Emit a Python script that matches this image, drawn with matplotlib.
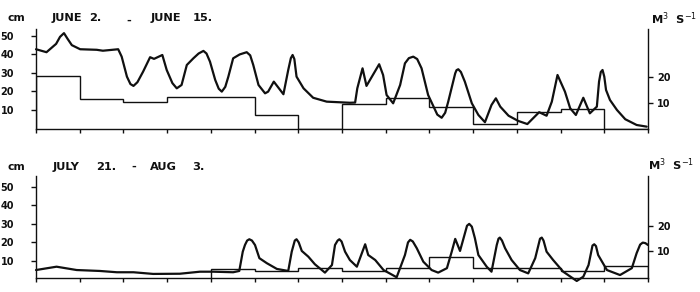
import numpy as np
import matplotlib
matplotlib.use("Agg")
import matplotlib.pyplot as plt

# ---------------- data ----------------
# Panel 1: June 2 - June 15 (x in days from start)
june_days = [0.00, 0.24, 0.46, 0.55, 0.64, 0.72, 0.82, 1.01, 1.39, 1.53, 1.88, 1.96, 2.08, 2.16, 2.23,
             2.32, 2.45, 2.61, 2.70, 2.89, 2.99, 3.12, 3.22, 3.33, 3.45, 3.60, 3.72, 3.83, 3.90, 3.98,
             4.10, 4.18, 4.25, 4.33, 4.40, 4.51, 4.66, 4.82, 4.90, 4.97, 5.09, 5.24, 5.31, 5.44, 5.66,
             5.77, 5.83, 5.87, 5.91, 5.96, 6.12, 6.34, 6.65, 7.18, 7.30, 7.35, 7.47, 7.56, 7.85, 7.94,
             8.02, 8.17, 8.33, 8.44, 8.53, 8.63, 8.72, 8.82, 8.97, 9.18, 9.28, 9.36, 9.43, 9.59, 9.62,
             9.66, 9.72, 9.81, 9.97, 10.12, 10.27, 10.42, 10.52, 10.62, 10.81, 11.03, 11.24, 11.37,
             11.51, 11.68, 11.80, 11.93, 12.10, 12.22, 12.35, 12.52, 12.67, 12.83, 12.88, 12.92, 12.96,
             13.00, 13.04, 13.13, 13.29, 13.48, 13.74, 13.97]
june_level = [42.8, 41.2, 45.7, 49.5, 51.5, 48.5, 45.0, 42.8, 42.5, 42.0, 42.8, 38.8, 28.0, 24.0, 23.0,
              25.0, 30.7, 38.5, 37.6, 39.7, 31.6, 24.5, 21.7, 23.5, 34.3, 37.9, 40.5, 41.9, 40.5, 36.1,
              26.2, 21.5, 19.9, 22.5, 28.0, 37.9, 40.0, 41.2, 39.5, 34.3, 23.5, 19.0, 19.9, 25.3, 18.5,
              31.6, 38.0, 39.7, 37.5, 28.0, 21.7, 16.6, 14.5, 13.9, 14.0, 21.7, 32.5, 23.0, 34.7, 28.9,
              18.1, 13.6, 23.5, 35.2, 38.0, 38.8, 37.5, 32.5, 18.1, 7.5, 5.8, 8.5, 14.5, 29.8, 31.5,
              32.0, 30.5, 25.3, 13.6, 7.3, 3.4, 12.7, 16.3, 11.8, 6.9, 4.1, 2.4, 5.5,
              8.8, 6.9, 14.5, 28.9, 19.9, 10.9, 7.3, 16.6, 8.2, 11.8, 25.3, 30.5, 31.6,
              28.0, 20.8, 15.4, 10.0, 5.0, 1.9, 1.0]
june_step_days = list(range(0, 15))
june_discharge = [20.4, 11.4, 10.3, 12.2, 12.2, 5.4, 0.0, 9.6, 12.1, 8.6, 1.9, 6.7, 7.6, 0.0]

# Panel 2: July 21 - Aug 3
july_days = [0.00, 0.47, 0.93, 1.46, 1.85, 2.23, 2.68, 3.29, 3.75, 4.06, 4.51, 4.65, 4.73, 4.78, 4.83,
             4.88, 4.94, 5.01, 5.11, 5.28, 5.51, 5.77, 5.85, 5.92, 5.96, 6.01, 6.08, 6.23, 6.38, 6.61,
             6.77, 6.84, 6.90, 6.94, 6.99, 7.07, 7.18, 7.34, 7.53, 7.60, 7.76, 7.95, 8.25, 8.44, 8.51,
             8.56, 8.62, 8.71, 8.86, 9.05, 9.20, 9.40, 9.51, 9.59, 9.70, 9.86, 9.91, 9.97, 10.04, 10.12,
             10.31, 10.42, 10.54, 10.58, 10.61, 10.66, 10.73, 10.88, 11.07, 11.26, 11.42, 11.53, 11.57,
             11.61, 11.68, 11.83, 12.06, 12.37, 12.52, 12.64, 12.73, 12.77, 12.81, 12.86, 13.06, 13.36,
             13.63, 13.74, 13.82, 13.88, 13.94, 14.00]
july_level = [5.1, 6.9, 5.1, 4.6, 3.9, 3.9, 3.0, 3.1, 4.2, 4.2, 3.9, 4.6, 15.0, 18.6, 21.0,
              21.7, 21.0, 18.6, 11.5, 8.8, 5.7, 4.6, 15.0, 21.0, 21.7, 20.0, 15.4, 12.3, 8.2, 3.7,
              7.8, 18.6, 21.0, 21.7, 20.5, 15.0, 10.5, 6.9, 19.0, 13.2, 10.5, 5.1, 1.2, 13.2, 20.0,
              21.4, 20.5, 16.9, 9.6, 5.1, 3.7, 6.1, 15.0, 21.9, 15.4, 29.0, 30.0, 28.5, 22.3, 13.2,
              6.9, 4.2, 18.6, 22.0, 22.6, 21.0, 16.9, 10.5, 5.1, 3.3, 11.5, 22.0, 22.6,
              21.0, 15.0, 10.5, 4.2, -0.8, 1.5, 7.8, 18.3, 19.0, 18.0, 13.2, 5.1, 2.4,
              6.1, 14.2, 18.8, 19.9, 19.6, 18.6]
july_step_days = list(range(4, 15))
july_discharge = [2.9, 2.1, 3.2, 2.1, 3.4, 7.5, 3.4, 3.4, 2.1, 4.2]

left_ticks = [10, 20, 30, 40, 50]
right_ticks = [10, 20]
day_ticks = list(range(0, 15))

# ---------------- figure ----------------
W, H = 700, 292
fig = plt.figure(figsize=(W / 100, H / 100), dpi=100)
fig.patch.set_facecolor("white")
INK = "#101010"
plt.rcParams["font.family"] = ["DejaVu Sans"]


def make_axes(top_px, bottom_px):
    return fig.add_axes([36 / W, (H - bottom_px) / H, (648 - 36) / W, (bottom_px - top_px) / H])


def style(ax, axr, ylim_l, ylim_r):
    ax.set_xlim(0, 14)
    ax.set_ylim(*ylim_l)
    axr.set_ylim(*ylim_r)
    for a in (ax, axr):
        a.spines["top"].set_visible(False)
        for s in ("left", "right", "bottom"):
            a.spines[s].set_linewidth(1.0)
            a.spines[s].set_color(INK)
        a.set_facecolor("none")
    ax.spines["right"].set_visible(False)
    axr.spines["left"].set_visible(False)
    axr.spines["bottom"].set_visible(False)
    ax.set_xticks(day_ticks)
    ax.set_xticklabels([])
    ax.tick_params(axis="x", direction="out", length=3.2, width=1.0, color=INK)
    ax.set_yticks(left_ticks)
    ax.set_yticklabels([str(t) for t in left_ticks], fontweight="bold")
    ax.tick_params(axis="y", direction="out", length=3.3, width=1.0, color=INK,
                   labelsize=7, pad=12.5, labelcolor=INK)
    axr.set_yticks(right_ticks)
    axr.set_yticklabels([str(t) for t in right_ticks], fontweight="bold")
    axr.tick_params(axis="y", direction="out", length=3.3, width=1.0, color=INK,
                    labelsize=7, pad=3, labelcolor=INK)


# top panel
ax1 = make_axes(28.5, 128.5)
ax1r = ax1.twinx()
style(ax1, ax1r, (0, 54.0), (0.2, 38.6))
ax1.plot(june_days, june_level, color=INK, lw=1.6, solid_joinstyle="round",
         solid_capstyle="round", clip_on=False, zorder=3)
ax1r.stairs(june_discharge, june_step_days, baseline=0.2, color=INK, lw=1.0)

# bottom panel
ax2 = make_axes(175.5, 278)
ax2r = ax2.twinx()
style(ax2, ax2r, (0.8, 56.1), (-0.67, 39.8))
ax2.plot(july_days, july_level, color=INK, lw=1.6, solid_joinstyle="round",
         solid_capstyle="round", clip_on=False, zorder=3)
ax2r.stairs(july_discharge, july_step_days, baseline=-0.67, color=INK, lw=1.0)


def ptext(x, y, s, size=8.2, **kw):
    fig.text(x / W, 1 - y / H, s, fontsize=size, color=INK, ha="left", va="baseline",
             fontweight="bold", **kw)


# titles
ptext(8, 21, "cm", size=7.8)
ptext(52, 21, "JUNE")
ptext(89, 21, "2.")
ptext(126, 24, "-")
ptext(151, 21, "JUNE")
ptext(193, 21, "15.")
ptext(651, 24, r"M$^{3}$  S$^{-1}$", size=8.2)

ptext(8, 169.5, "cm", size=7.8)
ptext(53, 169.5, "JULY")
ptext(96, 169.5, "21.")
ptext(131, 169.5, "-")
ptext(150, 169.5, "AUG")
ptext(192, 169.5, "3.")
ptext(648, 170, r"M$^{3}$  S$^{-1}$", size=8.2)

fig.savefig("out.png", dpi=100, facecolor="white")
